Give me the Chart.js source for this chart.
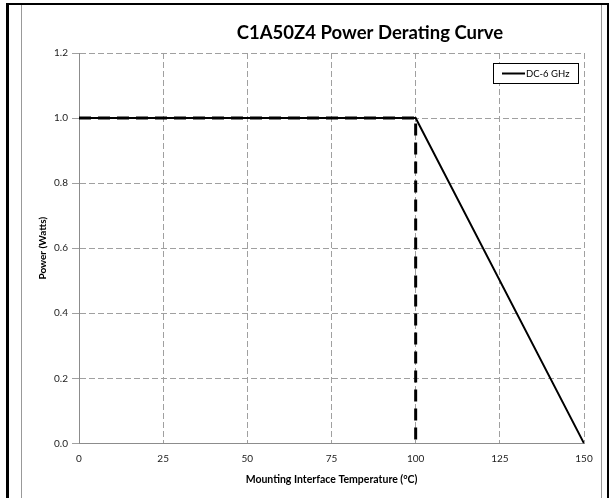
<!DOCTYPE html>
<html>
<head>
<meta charset="utf-8">
<script src="https://cdn.jsdelivr.net/npm/chart.js"></script>
<style>
  body { margin: 0; background: #fff; }
  #wrap { position: relative; width: 613px; height: 498px; overflow: hidden; }
  #chart { position: absolute; left: 0; top: 0; }
  .edge { position: absolute; }
</style>
</head>
<body>
<div id="wrap">
  <canvas id="chart" width="613" height="498"></canvas>
  <!-- page frame around the chart -->
  <div class="edge" style="left:6px;top:3px;width:3px;height:495px;background:#000"></div>
  <div class="edge" style="left:6px;top:3px;width:603px;height:2px;background:#000"></div>
  <div class="edge" style="left:607px;top:3px;width:2px;height:495px;background:#000"></div>
  <div class="edge" style="left:21px;top:5px;width:1px;height:493px;background:#999"></div>
  <div class="edge" style="left:601px;top:5px;width:1px;height:493px;background:#999"></div>
</div>
<script>
// data
const temps = [0, 100, 150];
const power = [1.0, 1.0, 0.0];
const limitTemps = [0, 100, 100];
const limitPower = [1.0, 1.0, 0.0];
const xTicks = [0, 25, 50, 75, 100, 125, 150];
const yTicks = [0.0, 0.2, 0.4, 0.6, 0.8, 1.0, 1.2];
const seriesName = "DC-6 GHz";
const chartTitle = "C1A50Z4 Power Derating Curve";

const FONT = "Lato, 'Open Sans', sans-serif";

// title is off-centre in the original, draw it by hand
const titlePlugin = {
    id: "titleText",
    afterDraw(chart) {
        const ctx = chart.ctx;
        ctx.save();
        ctx.font = "bold 18.5px " + FONT;
        ctx.fillStyle = "#000";
        ctx.textAlign = "center";
        ctx.textBaseline = "middle";
        ctx.fillText(chartTitle, 370, 33);
        ctx.restore();
    }
};

// boxed legend inside the plot, top right
const legendBox = {
    id: "legendBox",
    afterDraw(chart) {
        const ctx = chart.ctx;
        const a = chart.chartArea;
        const x = a.right - 91, y = a.top + 10, w = 85, h = 20;
        ctx.save();
        ctx.fillStyle = "#fff";
        ctx.fillRect(x, y, w, h);
        ctx.strokeStyle = "#000";
        ctx.lineWidth = 1;
        ctx.strokeRect(x + 0.5, y + 0.5, w, h);
        ctx.beginPath();
        ctx.moveTo(x + 9, y + 10.5);
        ctx.lineTo(x + 32, y + 10.5);
        ctx.lineWidth = 2;
        ctx.stroke();
        ctx.font = "9.5px " + FONT;
        ctx.fillStyle = "#000";
        ctx.textBaseline = "middle";
        ctx.fillText(seriesName, x + 33, y + 11);
        ctx.restore();
    }
};

new Chart(document.getElementById("chart"), {
    type: "scatter",
    data: {
        datasets: [
            {
                label: seriesName,
                data: temps.map((t, i) => ({ x: t, y: power[i] })),
                showLine: true,
                borderColor: "#000",
                borderWidth: 2,
                pointRadius: 0,
                tension: 0,
                order: 1
            },
            {
                label: "limit",
                data: limitTemps.map((t, i) => ({ x: t, y: limitPower[i] })),
                showLine: true,
                borderColor: "#000",
                borderWidth: 3,
                borderDash: [12, 7],
                pointRadius: 0,
                tension: 0,
                order: 2
            }
        ]
    },
    options: {
        responsive: false,
        animation: false,
        layout: { padding: { left: 37, right: 29, top: 53, bottom: 12 } },
        plugins: {
            legend: { display: false },
            tooltip: { enabled: false }
        },
        scales: {
            x: {
                type: "linear",
                min: 0,
                max: 150,
                afterBuildTicks: s => { s.ticks = xTicks.map(v => ({ value: v })); },
                grid: { color: "#a0a0a0", drawTicks: false },
                border: { color: "#8c8c8c", width: 1, dash: [6, 3] },
                ticks: { padding: 9, color: "#222", font: { family: FONT, size: 10 } },
                title: {
                    display: true,
                    text: "Mounting Interface Temperature (°C)",
                    color: "#000",
                    font: { family: FONT, size: 10.5, weight: "bold" },
                    padding: { top: 0, bottom: 0 }
                }
            },
            y: {
                min: 0,
                max: 1.2,
                afterBuildTicks: s => { s.ticks = yTicks.map(v => ({ value: v })); },
                afterFit: s => { s.width = 42; },
                grid: { color: "#a0a0a0", tickLength: 7, tickBorderDash: [] },
                border: { color: "#8c8c8c", width: 1, dash: [6, 3] },
                ticks: {
                    padding: 4,
                    color: "#222",
                    font: { family: FONT, size: 10 },
                    callback: v => v.toFixed(1)
                },
                title: {
                    display: true,
                    text: "Power (Watts)",
                    color: "#000",
                    font: { family: FONT, size: 10, weight: "bold" },
                    padding: { top: 0, bottom: 0 }
                }
            }
        }
    },
    plugins: [titlePlugin, legendBox]
});
</script>
</body>
</html>
